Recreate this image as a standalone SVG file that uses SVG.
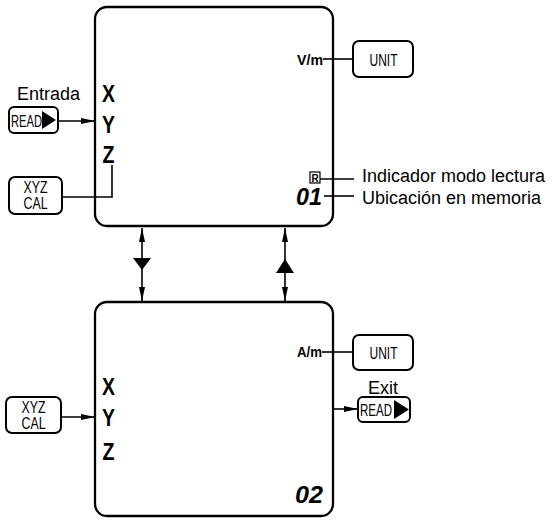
<svg xmlns="http://www.w3.org/2000/svg" width="552" height="520" viewBox="0 0 552 520">
<defs>
<style>
.frame{fill:none;stroke:#000;stroke-width:2.3}
.btn{fill:#fff;stroke:#000;stroke-width:2}
.ln{fill:none;stroke:#000;stroke-width:1.6}
.lbl{font-family:'Liberation Sans',Arial,sans-serif;font-size:18px;fill:#000}
.btxt{font-family:'Liberation Sans',Arial,sans-serif;font-size:16px;fill:#000}
.axis{font-family:'Liberation Sans',Arial,sans-serif;font-weight:bold;font-size:24px;fill:#000;text-anchor:middle}
.unit{font-family:'Liberation Sans',Arial,sans-serif;font-weight:bold;font-size:14px;fill:#000;text-anchor:end}
.dig{font-family:'Liberation Sans',Arial,sans-serif;font-weight:bold;font-style:italic;font-size:24px;fill:#000}
</style>
<marker id="ah" viewBox="0 0 14 6" markerWidth="14" markerHeight="6" refX="14" refY="3" orient="auto" markerUnits="userSpaceOnUse">
<path d="M0,0 L14,3 L0,6 z" fill="#000"/>
</marker>
<marker id="ahs" viewBox="0 0 14 6" markerWidth="14" markerHeight="6" refX="14" refY="3" orient="auto-start-reverse" markerUnits="userSpaceOnUse">
<path d="M0,0 L14,3 L0,6 z" fill="#000"/>
</marker>
</defs>

<g id="connectors">
<line class="ln" x1="58" y1="121" x2="95" y2="121" marker-end="url(#ah)"/>
<polyline class="ln" points="62,197 112,197 112,165"/>
<line class="ln" x1="323" y1="59" x2="353" y2="59"/>
<line class="ln" x1="320" y1="179" x2="354" y2="179"/>
<line class="ln" x1="324" y1="196" x2="354" y2="196"/>
<line class="ln" x1="142" y1="228" x2="142" y2="301" marker-start="url(#ahs)" marker-end="url(#ahs)"/>
<polygon points="133,258 151,258 142,270" fill="#000"/>
<line class="ln" x1="285" y1="228" x2="285" y2="301" marker-start="url(#ahs)" marker-end="url(#ahs)"/>
<polygon points="285,259 294,273 276,273" fill="#000"/>
<line class="ln" x1="322" y1="352" x2="353" y2="352"/>
<line class="ln" x1="333" y1="409" x2="358" y2="409" marker-end="url(#ah)"/>
<line class="ln" x1="61" y1="417" x2="95" y2="417" marker-end="url(#ah)"/>
</g>

<g id="display-top">
<rect class="frame" x="95" y="7" width="238" height="219" rx="12"/>
<text class="axis" x="108.5" y="102" textLength="13" lengthAdjust="spacingAndGlyphs">X</text>
<text class="axis" x="108.5" y="133" textLength="13" lengthAdjust="spacingAndGlyphs">Y</text>
<text class="axis" x="108.5" y="163" textLength="12" lengthAdjust="spacingAndGlyphs">Z</text>
<text class="unit" x="323" y="65" textLength="26" lengthAdjust="spacingAndGlyphs">V/m</text>
<rect x="310" y="172" width="10" height="11" fill="#fff" stroke="#000" stroke-width="1.2"/>
<text x="315" y="181.5" text-anchor="middle" style="font-family:'Liberation Sans',sans-serif;font-weight:bold;font-size:10px">R</text>
<text class="dig" x="296" y="205" textLength="26" lengthAdjust="spacingAndGlyphs">01</text>
</g>

<g id="display-bottom">
<rect class="frame" x="95" y="302" width="238" height="214" rx="12"/>
<text class="axis" x="108.5" y="395" textLength="13" lengthAdjust="spacingAndGlyphs">X</text>
<text class="axis" x="108.5" y="426" textLength="13" lengthAdjust="spacingAndGlyphs">Y</text>
<text class="axis" x="108.5" y="460" textLength="12" lengthAdjust="spacingAndGlyphs">Z</text>
<text class="unit" x="322" y="357" textLength="25" lengthAdjust="spacingAndGlyphs">A/m</text>
<text class="dig" x="295" y="503" textLength="28" lengthAdjust="spacingAndGlyphs">02</text>
</g>

<g id="entrada">
<text class="lbl" x="17" y="100">Entrada</text>
</g>
<g id="read-in">
<rect class="btn" x="9" y="107" width="49" height="26" rx="5"/>
<text class="btxt" x="11" y="126.5" textLength="31" lengthAdjust="spacingAndGlyphs">READ</text>
<polygon points="42,111 56,120 42,129" fill="#000"/>
</g>
<g id="xyzcal-top">
<rect class="btn" x="9" y="177" width="53" height="37" rx="6"/>
<text class="btxt" x="35.5" y="193" text-anchor="middle" textLength="24" lengthAdjust="spacingAndGlyphs">XYZ</text>
<text class="btxt" x="35.5" y="209" text-anchor="middle" textLength="24" lengthAdjust="spacingAndGlyphs">CAL</text>
</g>
<g id="unit-top">
<rect class="btn" x="353" y="41" width="60" height="36" rx="6"/>
<text class="btxt" x="383.5" y="66" text-anchor="middle" textLength="28" lengthAdjust="spacingAndGlyphs">UNIT</text>
</g>
<g id="label-indicador">
<text class="lbl" x="362" y="182">Indicador modo lectura</text>
</g>
<g id="label-ubicacion">
<text class="lbl" x="362" y="204">Ubicación en memoria</text>
</g>
<g id="unit-bottom">
<rect class="btn" x="353" y="335" width="60" height="35" rx="6"/>
<text class="btxt" x="383.5" y="359" text-anchor="middle" textLength="28" lengthAdjust="spacingAndGlyphs">UNIT</text>
</g>
<g id="exit">
<text class="lbl" x="368" y="394">Exit</text>
</g>
<g id="read-out">
<rect class="btn" x="358" y="397" width="52" height="25" rx="5"/>
<text class="btxt" x="360" y="415.5" textLength="32" lengthAdjust="spacingAndGlyphs">READ</text>
<polygon points="394,400 409,409.5 394,419" fill="#000"/>
</g>
<g id="xyzcal-bottom">
<rect class="btn" x="6" y="397" width="55" height="36" rx="6"/>
<text class="btxt" x="33.5" y="413" text-anchor="middle" textLength="24" lengthAdjust="spacingAndGlyphs">XYZ</text>
<text class="btxt" x="33.5" y="429" text-anchor="middle" textLength="24" lengthAdjust="spacingAndGlyphs">CAL</text>
</g>
</svg>
